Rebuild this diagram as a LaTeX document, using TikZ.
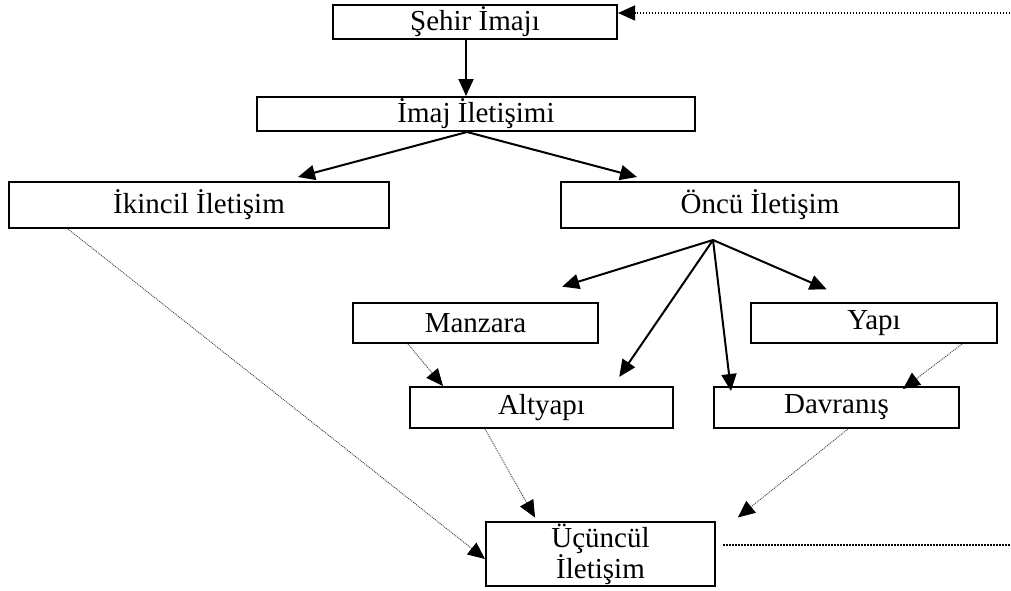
\documentclass[tikz,border=0pt]{standalone}
\usepackage{fontspec}
\setmainfont{Liberation Serif}
\usepackage{tikz}
\usetikzlibrary{arrows.meta}

\begin{document}
\begin{tikzpicture}[
    x=1pt, y=-1pt, % one unit per pixel of the layout
    every node/.style={font=\fontsize{29}{31}\selectfont},
    box/.style={draw, rectangle, line width=2pt, inner sep=0pt, align=center}, % plain boxes
    arr/.style={line width=2pt, -{Triangle[length=17pt,width=15pt]}}, % solid arrows
    dotarr/.style={line width=0.9pt, black!75, dash pattern=on 1pt off 1pt, -{Triangle[length=17pt,width=15pt,black]}}, % dotted arrows
    fbline/.style={line width=1.5pt, dash pattern=on 1.5pt off 1.5pt} % feedback lines on the right
]
\useasboundingbox (0,0) rectangle (1011,590);

% boxes
\node[box, minimum width=284pt, minimum height=34pt] (sehir) at (475,22) {Şehir İmajı};
\node[box, minimum width=438pt, minimum height=34pt] (imaj) at (476,114) {İmaj İletişimi};
\node[box, minimum width=380pt, minimum height=46pt] (ikincil) at (199,205) {İkincil İletişim};
\node[box, minimum width=398pt, minimum height=46pt] (oncu) at (760,205) {Öncü İletişim};
\node[box, minimum width=245pt, minimum height=40pt] (manzara) at (475.5,323) {Manzara};
\node[box, minimum width=246pt, minimum height=40pt] (yapi) at (874,323) {Yapı};
\node[box, minimum width=263pt, minimum height=41pt] (altyapi) at (541.5,407.5) {Altyapı};
\node[box, minimum width=245pt, minimum height=41pt] (davranis) at (836.5,407.5) {Davranış};
\node[box, minimum width=229pt, minimum height=64pt] (ucuncul) at (600.5,554) {Üçüncül\\İletişim};

\coordinate (fan) at ([xshift=-47pt,yshift=-11pt]oncu.south);
\coordinate (fbtop) at (1010,13);
\coordinate (fbbot) at (1010,545);

% solid arrows
\draw[arr] ([xshift=-9pt]sehir.south) -- ([xshift=-9pt]sehir.south |- imaj.north);
\draw[arr] ([xshift=-9pt]imaj.south) -- ([xshift=99pt,yshift=4pt]ikincil.north);
\draw[arr] ([xshift=-9pt]imaj.south) -- ([xshift=-123pt,yshift=4pt]oncu.north);
\draw[arr, shorten >=52pt] (fan) -- ([xshift=37pt]manzara.north);
\draw[arr, shorten >=11pt] (fan) -- ([xshift=71.5pt]altyapi.north);
\draw[arr] (fan) -- ([xshift=-105.5pt,yshift=-5pt]davranis.north);
\draw[arr, shorten >=32pt] (fan) -- ([xshift=-18pt]yapi.north);

% dotted arrows
\draw[dotarr] ([xshift=-131pt]ikincil.south) -- ([yshift=-5pt]ucuncul.west);
\draw[dotarr] ([xshift=-67.5pt]manzara.south) -- ([xshift=-98.5pt]altyapi.north);
\draw[dotarr] ([xshift=88pt]yapi.south) -- ([xshift=66.5pt,yshift=-3pt]davranis.north);
\draw[dotarr, shorten >=4pt] ([xshift=-56.5pt]altyapi.south) -- ([xshift=-63.5pt]ucuncul.north);
\draw[dotarr, shorten >=28pt] ([xshift=11.5pt]davranis.south) -- ([yshift=19pt]ucuncul.east);

% feedback lines
\draw[fbline, -{Triangle[length=17pt,width=15pt]}] (fbtop) -- ([yshift=9pt]sehir.east);
\draw[fbline, shorten <=7pt] ([yshift=9pt]ucuncul.east) -- (fbbot);
\end{tikzpicture}
\end{document}
